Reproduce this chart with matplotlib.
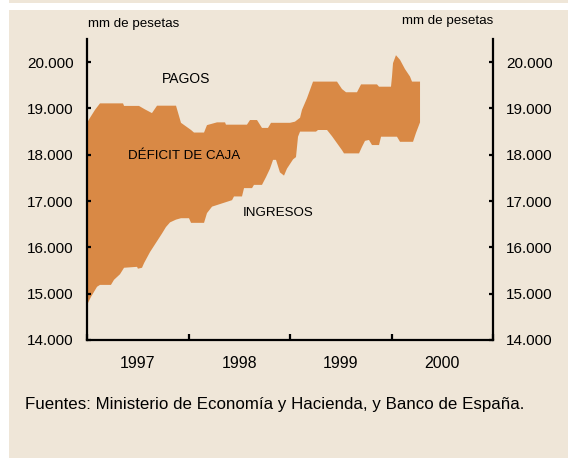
import numpy as np
import matplotlib.pyplot as plt
from matplotlib.patches import Rectangle
from matplotlib.ticker import FixedLocator, FuncFormatter

plt.rcParams['font.family'] = ['Liberation Sans', 'DejaVu Sans']

# Pagos (upper edge), mm de pesetas, time in decimal years
t_pagos = [1997.000, 1997.030, 1997.079, 1997.128, 1997.355, 1997.365, 1997.512,
           1997.571, 1997.640, 1997.690, 1997.877, 1997.926, 1998.025, 1998.054,
           1998.153, 1998.182, 1998.281, 1998.360, 1998.369, 1998.576, 1998.606,
           1998.675, 1998.724, 1998.783, 1998.813, 1999.000, 1999.049, 1999.099,
           1999.118, 1999.167, 1999.197, 1999.227, 1999.463, 1999.512, 1999.552,
           1999.660, 1999.700, 1999.857, 1999.877, 1999.995, 2000.005, 2000.015,
           2000.044, 2000.084, 2000.133, 2000.182, 2000.202, 2000.281]
pagos = [18690, 18800, 18970, 19110, 19110, 19055, 19055,
         18980, 18900, 19060, 19060, 18690, 18535, 18480,
         18480, 18640, 18700, 18700, 18650, 18650, 18750,
         18750, 18580, 18580, 18690, 18690, 18715, 18800,
         18970, 19220, 19400, 19580, 19580, 19420, 19350,
         19350, 19520, 19520, 19470, 19470, 19690, 19980,
         20150, 20050, 19850, 19690, 19580, 19580]

# Ingresos (lower edge)
t_ingresos = [1997.000, 1997.010, 1997.039, 1997.099, 1997.128, 1997.236, 1997.266,
              1997.325, 1997.365, 1997.493, 1997.502, 1997.542, 1997.562, 1997.621,
              1997.680, 1997.739, 1997.778, 1997.818, 1997.877, 1997.926, 1998.005,
              1998.025, 1998.153, 1998.182, 1998.232, 1998.429, 1998.448, 1998.527,
              1998.547, 1998.626, 1998.645, 1998.724, 1998.764, 1998.803, 1998.833,
              1998.862, 1998.901, 1998.941, 1998.970, 1999.030, 1999.059, 1999.079,
              1999.099, 1999.256, 1999.276, 1999.365, 1999.414, 1999.463, 1999.512,
              1999.532, 1999.680, 1999.709, 1999.739, 1999.778, 1999.808, 1999.877,
              1999.897, 2000.054, 2000.084, 2000.212, 2000.241, 2000.281]
ingresos = [14750, 14800, 14930, 15150, 15190, 15190, 15300,
            15420, 15560, 15580, 15540, 15560, 15660, 15900,
            16100, 16300, 16440, 16540, 16600, 16630, 16630,
            16530, 16530, 16740, 16880, 17020, 17100, 17100,
            17280, 17280, 17350, 17350, 17520, 17700, 17890,
            17890, 17620, 17550, 17700, 17900, 17950, 18390,
            18500, 18500, 18535, 18535, 18400, 18250, 18100,
            18030, 18030, 18170, 18300, 18320, 18210, 18210,
            18390, 18390, 18280, 18280, 18470, 18700]

y_ticks = [14000, 15000, 16000, 17000, 18000, 19000, 20000]
year_edges = [1997, 1998, 1999, 2000, 2001]
year_labels = ['1997', '1998', '1999', '2000']

BG = '#EFE6D8'
ORANGE = '#D98945'

fig = plt.figure(figsize=(5.68, 4.58), dpi=100, facecolor='white')
# beige panel
fig.patches.append(Rectangle((9 / 568, 0), 1, 1 - 10 / 458, transform=fig.transFigure,
                             facecolor=BG, edgecolor='none', zorder=-10))
fig.patches.append(Rectangle((9 / 568, 1 - 3 / 458), 1, 3 / 458, transform=fig.transFigure,
                             facecolor=BG, edgecolor='none', zorder=-10))

ax = fig.add_axes([87 / 568, 1 - 340 / 458, 406 / 568, 301 / 458])
ax.set_facecolor(BG)

poly_t = np.concatenate([t_pagos, t_ingresos[::-1]])
poly_v = np.concatenate([pagos, ingresos[::-1]])
ax.fill(poly_t, poly_v, color=ORANGE, linewidth=0)

ax.set_xlim(1997, 2001)
ax.set_ylim(14000, 20500)

for s in ['left', 'right', 'bottom']:
    ax.spines[s].set_linewidth(1.6)
ax.spines['top'].set_visible(False)

ax.yaxis.set_major_locator(FixedLocator(y_ticks))
ax.yaxis.set_major_formatter(FuncFormatter(lambda v, p: f'{int(v):,}'.replace(',', '.')))
ax.tick_params(axis='y', which='major', direction='in', length=3, width=1.6,
               labelsize=11, pad=9.5, left=True, right=True, labelleft=True, labelright=True)

ax.xaxis.set_major_locator(FixedLocator(year_edges))
ax.xaxis.set_major_formatter(FuncFormatter(lambda v, p: ''))
ax.xaxis.set_minor_locator(FixedLocator([y + 0.5 for y in year_edges[:-1]]))
ax.xaxis.set_minor_formatter(FuncFormatter(lambda v, p: year_labels[int(v) - 1997]))
ax.tick_params(axis='x', which='major', direction='in', length=4, width=1.6)
ax.tick_params(axis='x', which='minor', length=0, labelsize=11.5, pad=11.5)

ax.text(1997.975, 19640, 'PAGOS', ha='center', va='center', fontsize=10)
ax.text(1997.956, 17975, 'DÉFICIT DE CAJA', ha='center', va='center', fontsize=9.6)
ax.text(1998.88, 16750, 'INGRESOS', ha='center', va='center', fontsize=9.6)

fig.text(88 / 568, 1 - 24 / 458, 'mm de pesetas', ha='left', va='center', fontsize=9.6)
fig.text(493 / 568, 1 - 21 / 458, 'mm de pesetas', ha='right', va='center', fontsize=9.6)

fig.text(25 / 568, 1 - 404 / 458,
         'Fuentes: Ministerio de Economía y Hacienda, y Banco de España.',
         ha='left', va='center', fontsize=12.2)

fig.savefig('out.png', dpi=100, facecolor=fig.get_facecolor())
